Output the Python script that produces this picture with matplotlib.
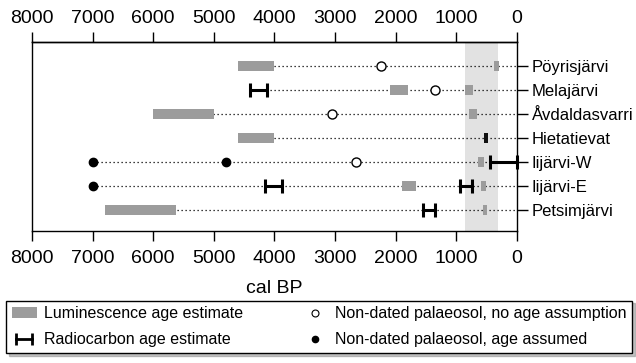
import matplotlib.pyplot as plt
from matplotlib.patches import Patch
from matplotlib.lines import Line2D
from matplotlib.legend_handler import HandlerLine2D

plt.rcParams['font.family'] = ['Liberation Sans', 'DejaVu Sans']

sites = ['Pöyrisjärvi', 'Melajärvi', 'Åvdaldasvarri', 'Hietatievat',
         'Iijärvi-W', 'Iijärvi-E', 'Petsimjärvi']

# luminescence age ranges (cal BP): (row, old, young)
lum = [(0, 4600, 4000), (0, 380, 300),
       (1, 2100, 1800), (1, 860, 730),
       (2, 6000, 5000), (2, 790, 660),
       (3, 4600, 4000),
       (4, 640, 540),
       (5, 1890, 1670), (5, 590, 510),
       (6, 6800, 5620), (6, 560, 500)]
# dark (very narrow) luminescence estimate
lum_dark = [(3, 550, 480)]
# radiocarbon ranges
c14 = [(1, 4400, 4130), (4, 440, 0), (5, 4150, 3870), (5, 940, 750),
       (6, 1550, 1360)]
# non-dated palaeosols
open_pts = [(0, 2250), (1, 1350), (2, 3050), (4, 2660)]
filled_pts = [(4, 7000), (4, 4800), (5, 7000)]
band = (850, 310)
ticks = list(range(8000, -1, -1000))

fig = plt.figure(figsize=(6.36, 3.63), dpi=100)
ax = fig.add_axes([0.0503, 0.3636, 0.7626, 0.5207])

ax.axvspan(band[0], band[1], color='#e2e2e2', zorder=0, lw=0)

# dotted guide lines from oldest item to 0
for i in range(len(sites)):
    xs = [o for r, o, y in lum + lum_dark + c14 if r == i]
    xs += [x for r, x in open_pts + filled_pts if r == i]
    ax.hlines(i + 1, max(xs), 0, colors='black', linestyles=(0, (1, 2.2)),
              lw=0.9, zorder=1)

h = 0.42
for r, o, y in lum:
    ax.barh(r + 1, o - y, left=y, height=h, color='#9c9c9c', lw=0, zorder=2)
for r, o, y in lum_dark:
    ax.barh(r + 1, o - y, left=y, height=h, color='#111111', lw=0, zorder=2)
for r, o, y in c14:
    ax.plot([o, y], [r + 1, r + 1], color='black', lw=2.2, zorder=3,
            solid_capstyle='butt', clip_on=False)
    ax.plot([o, y], [r + 1, r + 1], ls='none', marker='|', ms=10, mew=2.2,
            color='black', zorder=3, clip_on=False)
ax.plot([x for r, x in open_pts], [r + 1 for r, x in open_pts], 'o',
        mfc='white', mec='black', ms=6.5, mew=1, zorder=4)
ax.plot([x for r, x in filled_pts], [r + 1 for r, x in filled_pts], 'o',
        color='black', ms=6, zorder=4)

ax.set_xlim(8000, 0)
ax.set_ylim(7.86, 0)
ax.set_xticks(ticks)
ax.tick_params(axis='x', direction='out', length=7.5, width=1,
               labelsize=14, pad=6.5)
top = ax.secondary_xaxis('top')
top.set_xticks(ticks)
top.tick_params(axis='x', direction='out', length=7.5, width=1,
                labelsize=14, pad=3.5)
top.spines['top'].set_linewidth(1)
ax.yaxis.tick_right()
ax.set_yticks(range(1, 8))
ax.set_yticklabels(sites)
ax.tick_params(axis='y', direction='out', length=8, width=1,
               labelsize=12, pad=2.5)
ax.set_xlabel('cal BP', fontsize=14, labelpad=9)
for s in ax.spines.values():
    s.set_linewidth(1)

handles = [Patch(facecolor='#9c9c9c', lw=0),
           Line2D([0], [0], color='black', lw=2, marker='|', ms=8, mew=2),
           Line2D([0], [0], ls='none', marker='o', mfc='white', mec='black',
                  ms=5, mew=0.8),
           Line2D([0], [0], ls='none', marker='o', color='black', ms=4.5)]
labels = ['Luminescence age estimate', 'Radiocarbon age estimate',
          'Non-dated palaeosol, no age assumption',
          'Non-dated palaeosol, age assumed']
leg = fig.legend(handles, labels, ncol=2, loc='upper left', mode='expand',
                 bbox_to_anchor=(0.0094, 0.022, 0.984, 0.15), fontsize=11.5,
                 fancybox=False, shadow={'color': '#888888'},
                 edgecolor='black', framealpha=1, borderpad=0.35,
                 labelspacing=0.7, handlelength=1.6, handletextpad=0.45,
                 columnspacing=1.0, borderaxespad=0, numpoints=1,
                 handler_map={handles[1]: HandlerLine2D(numpoints=2)})
leg.get_frame().set_linewidth(1)

fig.savefig('out.png', dpi=100)
